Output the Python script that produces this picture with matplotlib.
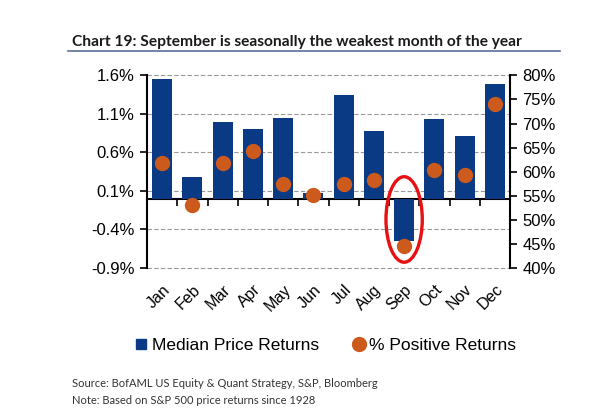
import numpy as np
import matplotlib.pyplot as plt
from matplotlib.patches import Ellipse
from matplotlib.lines import Line2D

plt.rcParams['font.family'] = ['Liberation Sans', 'DejaVu Sans']

months = ['Jan', 'Feb', 'Mar', 'Apr', 'May', 'Jun', 'Jul', 'Aug', 'Sep', 'Oct', 'Nov', 'Dec']
median_ret = [1.55, 0.28, 1.00, 0.91, 1.05, 0.07, 1.35, 0.88, -0.55, 1.03, 0.81, 1.49]
pct_positive = [61.9, 53.0, 61.9, 64.2, 57.5, 55.2, 57.4, 58.2, 44.5, 60.4, 59.3, 74.0]

left_ticks = [1.6, 1.1, 0.6, 0.1, -0.4, -0.9]
right_ticks = [80, 75, 70, 65, 60, 55, 50, 45, 40]

bar_col = '#0B3A84'
dot_col = '#CC5A1C'
note_font = ['Lato', 'DejaVu Sans']

fig = plt.figure(figsize=(5.95, 4.18), dpi=100)
ax = fig.add_axes([147/595, 1 - 268/418, 363/595, 192.6/418])
x = np.arange(len(months))

ax.bar(x, median_ret, width=0.66, color=bar_col, zorder=2)
ax.set_xlim(-0.5, 11.5)
ax.set_ylim(-0.9, 1.6)
ax.set_yticks(left_ticks)
ax.set_yticklabels(['%.1f%%' % v for v in left_ticks], fontsize=12)
ax.yaxis.grid(True, linestyle=(0, (4, 2)), color='#999999', linewidth=0.8, zorder=0)
for gl in ax.yaxis.get_gridlines():
    gl.set_clip_on(False)
ax.tick_params(axis='y', direction='out', length=5, width=1.2, pad=4)
ax.set_xticks(x)
ax.set_xticklabels(months, rotation=45, ha='right', rotation_mode='anchor', fontsize=11.5)
ax.tick_params(axis='x', length=0, pad=10)
for s in ['top', 'right', 'bottom']:
    ax.spines[s].set_visible(False)
ax.spines['left'].set_linewidth(1.5)

# zero line with ticks between months
zax = ax.secondary_xaxis(0, transform=ax.transData)
zax.set_xticks(x[:-1] + 0.5)
zax.set_xticklabels([])
zax.tick_params(direction='out', length=5, width=1.2)
zax.spines['bottom'].set_linewidth(1.5)

ax2 = ax.twinx()
ax2.set_ylim(40, 80)
ax2.scatter(x, pct_positive, s=100, color=dot_col, zorder=3)
ax2.set_yticks(right_ticks)
ax2.set_yticklabels(['%d%%' % v for v in right_ticks], fontsize=12)
ax2.tick_params(axis='y', direction='out', length=5, width=1.2, pad=4)
for s in ['top', 'left', 'bottom']:
    ax2.spines[s].set_visible(False)
ax2.spines['right'].set_linewidth(1.5)

# highlight September
ax.add_patch(Ellipse((8, -0.27), 1.2, 1.11, fill=False, edgecolor='#E81010',
                     linewidth=2.4, zorder=4, clip_on=False))

# legend
handles = [Line2D([], [], marker='s', color='none', markerfacecolor=bar_col, markeredgecolor=bar_col, markersize=7),
           Line2D([], [], marker='o', color='none', markerfacecolor=dot_col, markeredgecolor=dot_col, markersize=10)]
fig.legend(handles, ['Median Price Returns', '% Positive Returns'], loc='center',
           bbox_to_anchor=(0.545, 1 - 345/418), ncol=2, frameon=False, fontsize=12.5,
           handletextpad=0.1, columnspacing=1.8, handlelength=1.0)

# title and notes
fig.text(72/595, 1 - 46/418, 'Chart 19: September is seasonally the weakest month of the year',
         fontsize=11.2, fontweight='bold', family=note_font,
         color='#1a1a1a', va='baseline')
fig.add_artist(Line2D([68/595, 560/595], [1 - 51/418, 1 - 51/418], color='#5A6E95', linewidth=1.2))
fig.text(72/595, 1 - 387/418, 'Source: BofAML US Equity & Quant Strategy, S&P, Bloomberg',
         fontsize=8.0, family=note_font, color='#333333', va='baseline')
fig.text(72/595, 1 - 404/418, 'Note: Based on S&P 500 price returns since 1928',
         fontsize=8.0, family=note_font, color='#333333', va='baseline')

fig.savefig('out.png', dpi=100)
